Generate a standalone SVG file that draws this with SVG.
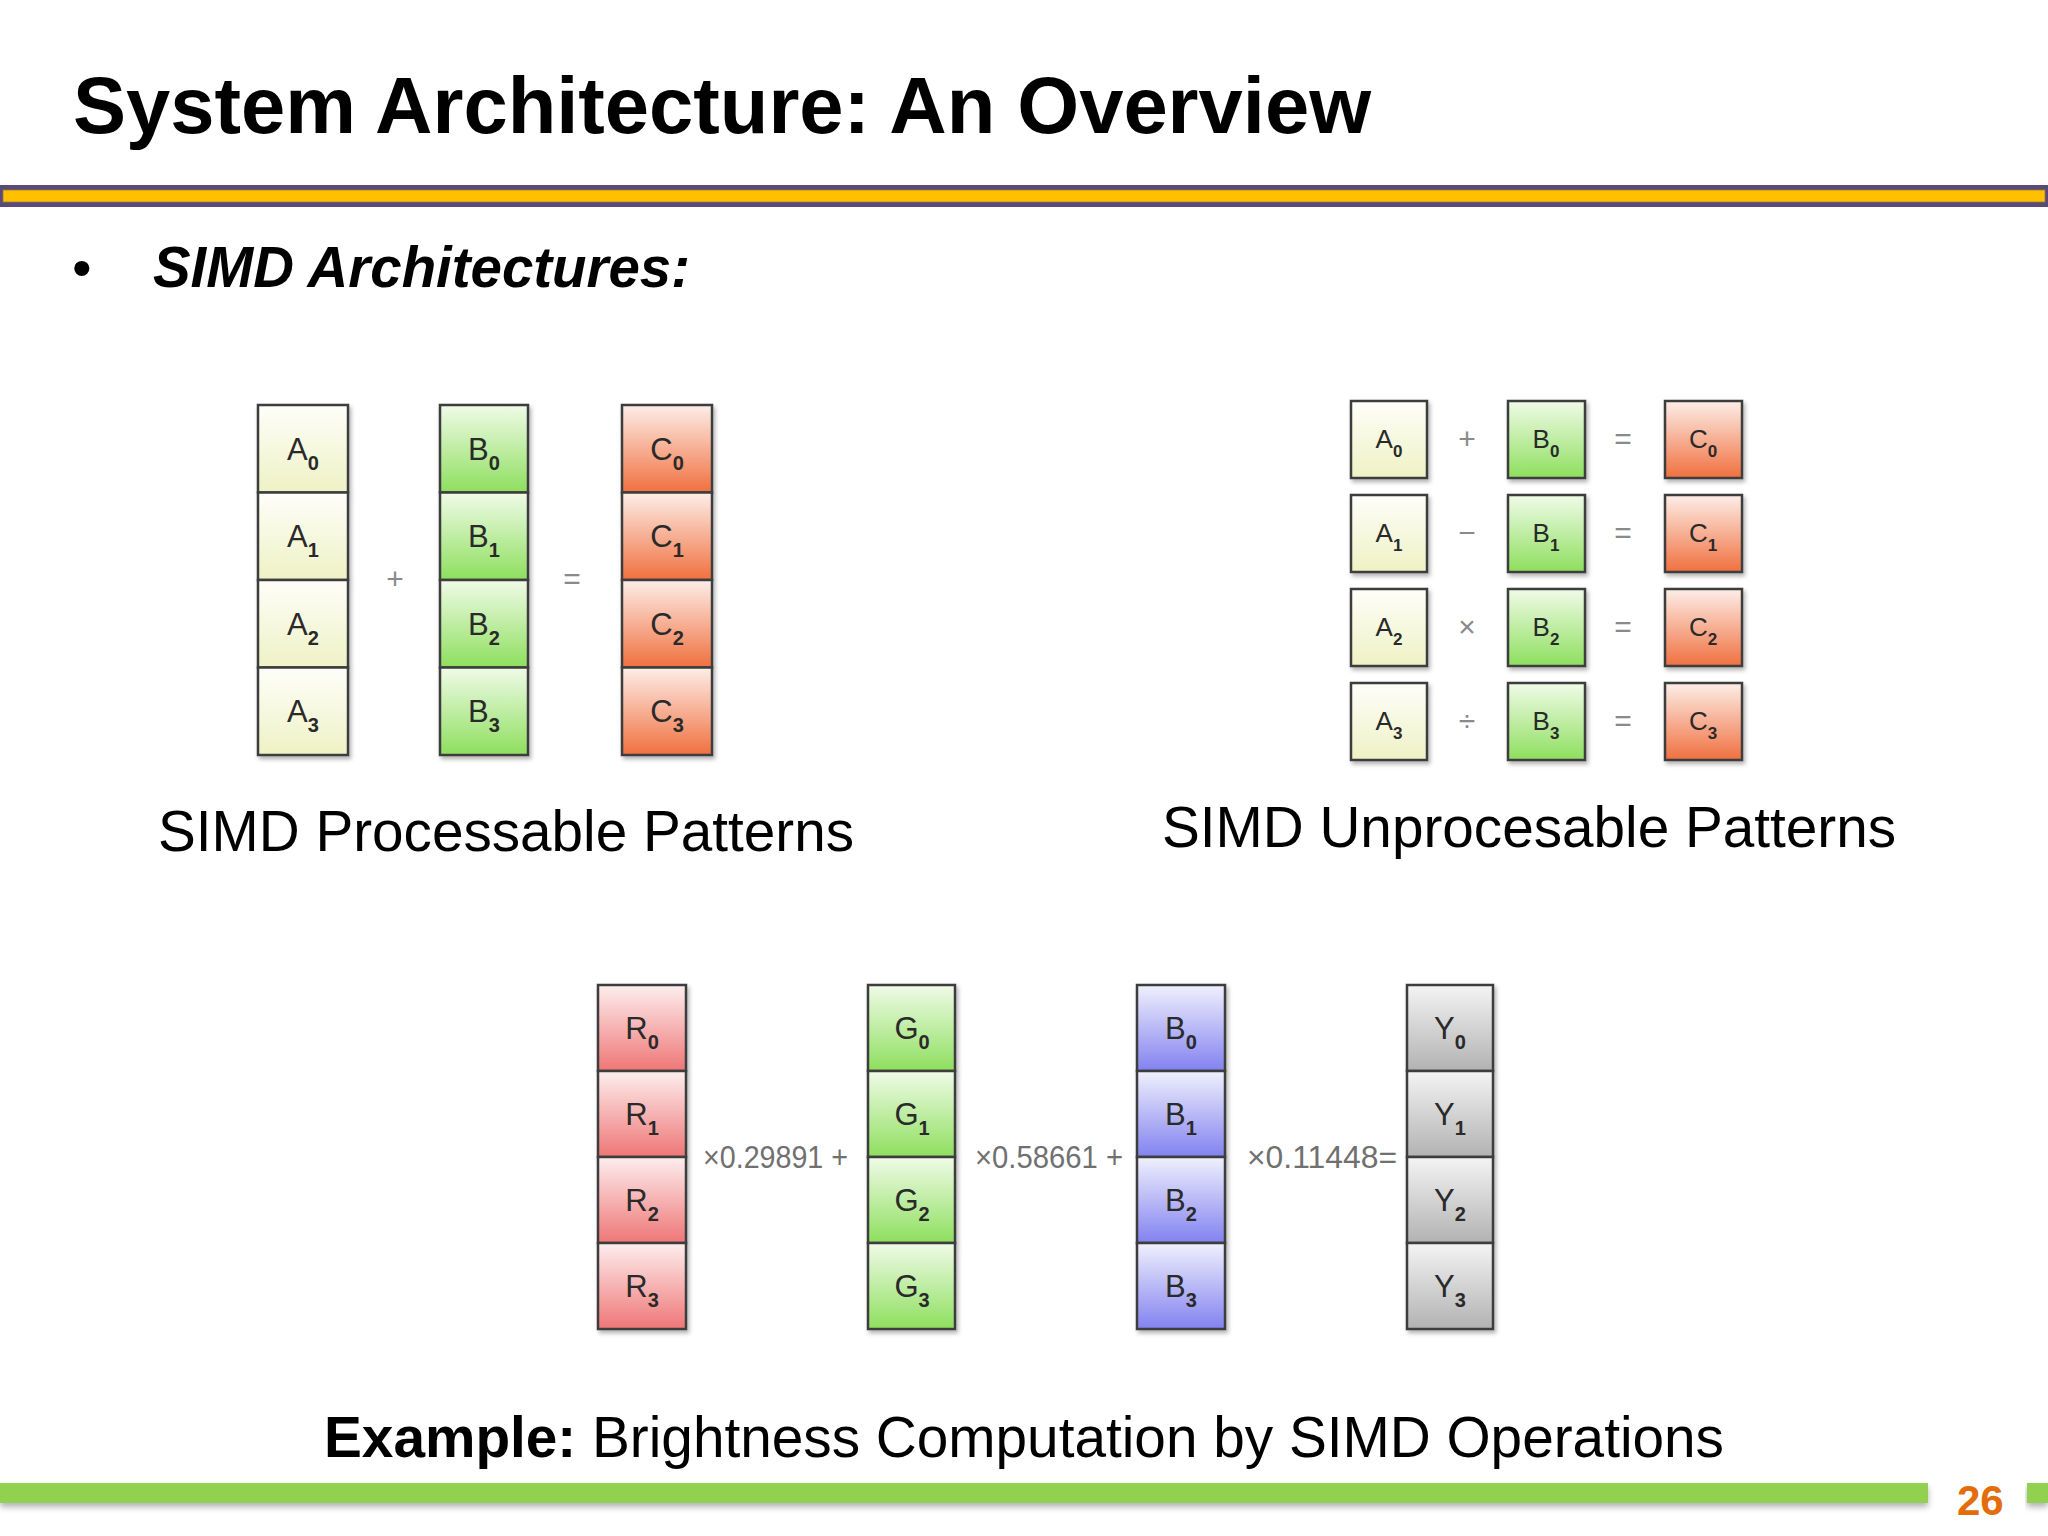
<svg xmlns="http://www.w3.org/2000/svg" width="2048" height="1536" viewBox="0 0 2048 1536">
<defs>
<linearGradient id="gA" x1="0" y1="0" x2="0" y2="1"><stop offset="0" stop-color="#fefefa"/><stop offset="1" stop-color="#eef2c4"/></linearGradient>
<linearGradient id="gG" x1="0" y1="0" x2="0" y2="1"><stop offset="0" stop-color="#f0fbe8"/><stop offset="1" stop-color="#8edf5e"/></linearGradient>
<linearGradient id="gC" x1="0" y1="0" x2="0" y2="1"><stop offset="0" stop-color="#fdeee8"/><stop offset="1" stop-color="#f0703f"/></linearGradient>
<linearGradient id="gR" x1="0" y1="0" x2="0" y2="1"><stop offset="0" stop-color="#fdeeee"/><stop offset="1" stop-color="#ef7676"/></linearGradient>
<linearGradient id="gB" x1="0" y1="0" x2="0" y2="1"><stop offset="0" stop-color="#f0f0fd"/><stop offset="1" stop-color="#8282f0"/></linearGradient>
<linearGradient id="gY" x1="0" y1="0" x2="0" y2="1"><stop offset="0" stop-color="#f4f4f4"/><stop offset="1" stop-color="#b2b2b2"/></linearGradient>
<filter id="sh" x="-20%" y="-20%" width="140%" height="140%"><feDropShadow dx="2" dy="3" stdDeviation="2" flood-color="#000" flood-opacity="0.3"/></filter>
<filter id="bsh" x="-5%" y="-50%" width="110%" height="300%"><feDropShadow dx="0" dy="4" stdDeviation="3" flood-color="#000" flood-opacity="0.3"/></filter>
</defs>
<style>
.cell{stroke:#3c3c3c;stroke-width:2.5}
.L{font-family:"Liberation Sans",Arial,sans-serif;font-size:31px;fill:#2a2a2a;text-anchor:middle}
.Ls{font-family:"Liberation Sans",Arial,sans-serif;font-size:26px;fill:#2a2a2a;text-anchor:middle}
.sub{font-weight:bold;font-size:20px}
.subs{font-weight:bold;font-size:17px}
.op{font-family:"Liberation Sans",Arial,sans-serif;font-size:30px;fill:#8a8a8a;text-anchor:middle}
.coef{font-family:"Liberation Sans",Arial,sans-serif;font-size:32px;fill:#707070}
.cap{font-family:"Liberation Sans",Arial,sans-serif;font-size:58px;fill:#000}
</style>
<rect width="2048" height="1536" fill="#ffffff"/>

<g id="title">
<text x="73" y="133" font-family="Liberation Sans,Arial,sans-serif" font-size="80" font-weight="bold" fill="#000" textLength="1298" lengthAdjust="spacingAndGlyphs">System Architecture: An Overview</text>
</g>
<g id="header-bar">
<rect x="0" y="185" width="2048" height="22" fill="#594a7a"/>
<rect x="3" y="190" width="2042" height="12" fill="#ffc000" stroke="#9a7a30" stroke-width="0.8"/>
</g>

<g id="bullet">
<text x="72" y="287" font-family="Liberation Sans,Arial,sans-serif" font-size="56" fill="#000">•</text>
<text x="153" y="287" font-family="Liberation Sans,Arial,sans-serif" font-size="57" font-weight="bold" font-style="italic" fill="#000" textLength="537" lengthAdjust="spacingAndGlyphs">SIMD Architectures:</text>
</g>

<!-- Processable pattern -->
<g id="colA" filter="url(#sh)">
<rect class="cell" x="258" y="405" width="90" height="87.5" fill="url(#gA)"/>
<rect class="cell" x="258" y="492.5" width="90" height="87.5" fill="url(#gA)"/>
<rect class="cell" x="258" y="580" width="90" height="87.5" fill="url(#gA)"/>
<rect class="cell" x="258" y="667.5" width="90" height="87.5" fill="url(#gA)"/>
</g>
<g id="colA-text">
<text class="L" x="303" y="460">A<tspan class="sub" dy="10">0</tspan></text>
<text class="L" x="303" y="547">A<tspan class="sub" dy="10">1</tspan></text>
<text class="L" x="303" y="635">A<tspan class="sub" dy="10">2</tspan></text>
<text class="L" x="303" y="722">A<tspan class="sub" dy="10">3</tspan></text>
</g>
<g id="colB" filter="url(#sh)">
<rect class="cell" x="440" y="405" width="88" height="87.5" fill="url(#gG)"/>
<rect class="cell" x="440" y="492.5" width="88" height="87.5" fill="url(#gG)"/>
<rect class="cell" x="440" y="580" width="88" height="87.5" fill="url(#gG)"/>
<rect class="cell" x="440" y="667.5" width="88" height="87.5" fill="url(#gG)"/>
</g>
<g id="colB-text">
<text class="L" x="484" y="460">B<tspan class="sub" dy="10">0</tspan></text>
<text class="L" x="484" y="547">B<tspan class="sub" dy="10">1</tspan></text>
<text class="L" x="484" y="635">B<tspan class="sub" dy="10">2</tspan></text>
<text class="L" x="484" y="722">B<tspan class="sub" dy="10">3</tspan></text>
</g>
<g id="colC" filter="url(#sh)">
<rect class="cell" x="622" y="405" width="90" height="87.5" fill="url(#gC)"/>
<rect class="cell" x="622" y="492.5" width="90" height="87.5" fill="url(#gC)"/>
<rect class="cell" x="622" y="580" width="90" height="87.5" fill="url(#gC)"/>
<rect class="cell" x="622" y="667.5" width="90" height="87.5" fill="url(#gC)"/>
</g>
<g id="colC-text">
<text class="L" x="667" y="460">C<tspan class="sub" dy="10">0</tspan></text>
<text class="L" x="667" y="547">C<tspan class="sub" dy="10">1</tspan></text>
<text class="L" x="667" y="635">C<tspan class="sub" dy="10">2</tspan></text>
<text class="L" x="667" y="722">C<tspan class="sub" dy="10">3</tspan></text>
</g>
<g id="ops-left">
<text class="op" x="395" y="589">+</text>
<text class="op" x="572" y="589">=</text>
</g>
<text id="cap-left" class="cap" x="158" y="851" textLength="696" lengthAdjust="spacingAndGlyphs">SIMD Processable Patterns</text>

<!-- Unprocessable pattern -->
<g id="boxA" filter="url(#sh)">
<rect class="cell" x="1351" y="401" width="76" height="77" fill="url(#gA)"/>
<rect class="cell" x="1351" y="495" width="76" height="77" fill="url(#gA)"/>
<rect class="cell" x="1351" y="589" width="76" height="77" fill="url(#gA)"/>
<rect class="cell" x="1351" y="683" width="76" height="77" fill="url(#gA)"/>
</g>
<g id="boxB" filter="url(#sh)">
<rect class="cell" x="1508" y="401" width="77" height="77" fill="url(#gG)"/>
<rect class="cell" x="1508" y="495" width="77" height="77" fill="url(#gG)"/>
<rect class="cell" x="1508" y="589" width="77" height="77" fill="url(#gG)"/>
<rect class="cell" x="1508" y="683" width="77" height="77" fill="url(#gG)"/>
</g>
<g id="boxC" filter="url(#sh)">
<rect class="cell" x="1665" y="401" width="77" height="77" fill="url(#gC)"/>
<rect class="cell" x="1665" y="495" width="77" height="77" fill="url(#gC)"/>
<rect class="cell" x="1665" y="589" width="77" height="77" fill="url(#gC)"/>
<rect class="cell" x="1665" y="683" width="77" height="77" fill="url(#gC)"/>
</g>
<g id="box-text">
<text class="Ls" x="1389" y="448">A<tspan class="subs" dy="9">0</tspan></text>
<text class="Ls" x="1389" y="542">A<tspan class="subs" dy="9">1</tspan></text>
<text class="Ls" x="1389" y="636">A<tspan class="subs" dy="9">2</tspan></text>
<text class="Ls" x="1389" y="730">A<tspan class="subs" dy="9">3</tspan></text>
<text class="Ls" x="1546" y="448">B<tspan class="subs" dy="9">0</tspan></text>
<text class="Ls" x="1546" y="542">B<tspan class="subs" dy="9">1</tspan></text>
<text class="Ls" x="1546" y="636">B<tspan class="subs" dy="9">2</tspan></text>
<text class="Ls" x="1546" y="730">B<tspan class="subs" dy="9">3</tspan></text>
<text class="Ls" x="1703" y="448">C<tspan class="subs" dy="9">0</tspan></text>
<text class="Ls" x="1703" y="542">C<tspan class="subs" dy="9">1</tspan></text>
<text class="Ls" x="1703" y="636">C<tspan class="subs" dy="9">2</tspan></text>
<text class="Ls" x="1703" y="730">C<tspan class="subs" dy="9">3</tspan></text>
</g>
<g id="ops-right">
<text class="op" x="1467" y="449" font-size="28">+</text>
<text class="op" x="1467" y="543" font-size="28">−</text>
<text class="op" x="1467" y="637" font-size="28">×</text>
<text class="op" x="1467" y="731" font-size="28">÷</text>
<text class="op" x="1623" y="449" font-size="28">=</text>
<text class="op" x="1623" y="543" font-size="28">=</text>
<text class="op" x="1623" y="637" font-size="28">=</text>
<text class="op" x="1623" y="731" font-size="28">=</text>
</g>
<text id="cap-right" class="cap" x="1162" y="847" textLength="734" lengthAdjust="spacingAndGlyphs">SIMD Unprocesable Patterns</text>

<!-- Brightness example -->
<g id="colR" filter="url(#sh)">
<rect class="cell" x="598" y="985" width="88" height="86" fill="url(#gR)"/>
<rect class="cell" x="598" y="1071" width="88" height="86" fill="url(#gR)"/>
<rect class="cell" x="598" y="1157" width="88" height="86" fill="url(#gR)"/>
<rect class="cell" x="598" y="1243" width="88" height="86" fill="url(#gR)"/>
</g>
<g id="colG" filter="url(#sh)">
<rect class="cell" x="868" y="985" width="87" height="86" fill="url(#gG)"/>
<rect class="cell" x="868" y="1071" width="87" height="86" fill="url(#gG)"/>
<rect class="cell" x="868" y="1157" width="87" height="86" fill="url(#gG)"/>
<rect class="cell" x="868" y="1243" width="87" height="86" fill="url(#gG)"/>
</g>
<g id="colBl" filter="url(#sh)">
<rect class="cell" x="1137" y="985" width="88" height="86" fill="url(#gB)"/>
<rect class="cell" x="1137" y="1071" width="88" height="86" fill="url(#gB)"/>
<rect class="cell" x="1137" y="1157" width="88" height="86" fill="url(#gB)"/>
<rect class="cell" x="1137" y="1243" width="88" height="86" fill="url(#gB)"/>
</g>
<g id="colY" filter="url(#sh)">
<rect class="cell" x="1407" y="985" width="86" height="86" fill="url(#gY)"/>
<rect class="cell" x="1407" y="1071" width="86" height="86" fill="url(#gY)"/>
<rect class="cell" x="1407" y="1157" width="86" height="86" fill="url(#gY)"/>
<rect class="cell" x="1407" y="1243" width="86" height="86" fill="url(#gY)"/>
</g>
<g id="rgby-text">
<text class="L" x="642" y="1039">R<tspan class="sub" dy="10">0</tspan></text>
<text class="L" x="642" y="1125">R<tspan class="sub" dy="10">1</tspan></text>
<text class="L" x="642" y="1211">R<tspan class="sub" dy="10">2</tspan></text>
<text class="L" x="642" y="1297">R<tspan class="sub" dy="10">3</tspan></text>
<text class="L" x="912" y="1039">G<tspan class="sub" dy="10">0</tspan></text>
<text class="L" x="912" y="1125">G<tspan class="sub" dy="10">1</tspan></text>
<text class="L" x="912" y="1211">G<tspan class="sub" dy="10">2</tspan></text>
<text class="L" x="912" y="1297">G<tspan class="sub" dy="10">3</tspan></text>
<text class="L" x="1181" y="1039">B<tspan class="sub" dy="10">0</tspan></text>
<text class="L" x="1181" y="1125">B<tspan class="sub" dy="10">1</tspan></text>
<text class="L" x="1181" y="1211">B<tspan class="sub" dy="10">2</tspan></text>
<text class="L" x="1181" y="1297">B<tspan class="sub" dy="10">3</tspan></text>
<text class="L" x="1450" y="1039">Y<tspan class="sub" dy="10">0</tspan></text>
<text class="L" x="1450" y="1125">Y<tspan class="sub" dy="10">1</tspan></text>
<text class="L" x="1450" y="1211">Y<tspan class="sub" dy="10">2</tspan></text>
<text class="L" x="1450" y="1297">Y<tspan class="sub" dy="10">3</tspan></text>
</g>
<g id="coefs">
<text class="coef" x="703" y="1168" textLength="145" lengthAdjust="spacingAndGlyphs">×0.29891 +</text>
<text class="coef" x="975" y="1168" textLength="148" lengthAdjust="spacingAndGlyphs">×0.58661 +</text>
<text class="coef" x="1247" y="1168" textLength="150" lengthAdjust="spacingAndGlyphs">×0.11448=</text>
</g>
<text id="cap-bottom" class="cap" x="324" y="1457" textLength="1400" lengthAdjust="spacingAndGlyphs"><tspan font-weight="bold">Example:</tspan> Brightness Computation by SIMD Operations</text>

<g id="footer">
<rect x="0" y="1483" width="1928" height="20" fill="#92d050" filter="url(#bsh)"/>
<rect x="2027" y="1483" width="21" height="20" fill="#92d050" filter="url(#bsh)"/>
<text x="1957" y="1515" font-family="Liberation Sans,Arial,sans-serif" font-size="42" font-weight="bold" fill="#e46c0a">26</text>
</g>
</svg>
